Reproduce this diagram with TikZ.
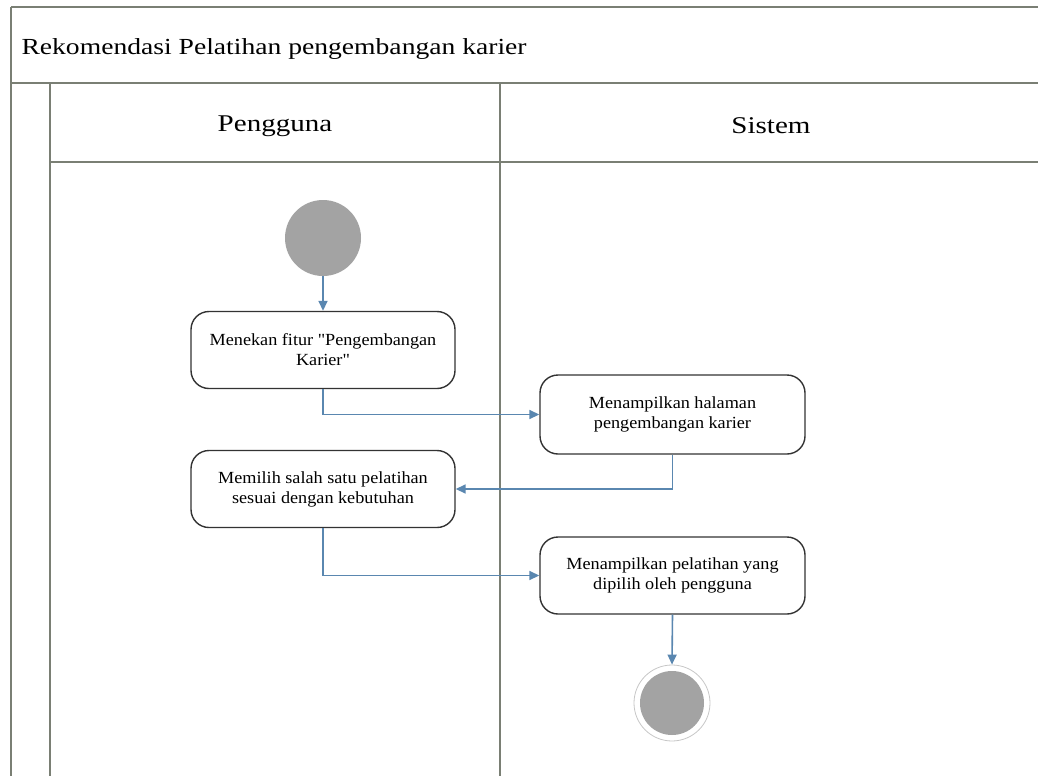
\documentclass[tikz,border=0pt]{standalone}
\usepackage{fontspec}
\setmainfont{Liberation Serif}
\newfontfamily\titlefont[FakeStretch=1.2]{Liberation Serif}
\newfontfamily\lanefont[FakeStretch=1.21]{Liberation Serif}
\newfontfamily\boxfont[FakeStretch=1.07]{Liberation Serif}
\usetikzlibrary{arrows.meta}
\definecolor{frame}{HTML}{7A7F74}
\definecolor{flow}{HTML}{5A87B0}
\definecolor{dotgray}{HTML}{A3A3A3}
\begin{document}
\begin{tikzpicture}[x=1pt,y=-1pt,
  frameline/.style={draw=frame,line width=2pt},
  actbox/.style={draw=black!80,line width=1.4pt,rounded corners=18pt,
    minimum width=264pt,minimum height=77pt,align=center,inner sep=0pt,
    font=\boxfont\fontsize{17}{20}\selectfont},
  flowarrow/.style={draw=flow,line width=1.6pt,-{Triangle[length=10pt,width=9pt]}},
  startdot/.style={circle,fill=dotgray,minimum size=76pt,inner sep=0pt},
  endring/.style={circle,draw=black!22,line width=0.8pt,fill=white,minimum size=76pt,inner sep=0pt},
  enddot/.style={circle,fill=dotgray,minimum size=64pt,inner sep=0pt}
]
\useasboundingbox (0,0) rectangle (1038,776);
\fill[white] (0,0) rectangle (1038,776);
% frame
\draw[frameline,line width=2.6pt] (1038,7) -- (11,7);
\draw[frameline] (11,7) -- (11,776);
\draw[frameline] (11,83) -- (1038,83);
\draw[frameline] (50,83) -- (50,776);
\draw[frameline] (500,83) -- (500,776);
\draw[frameline] (50,162) -- (1038,162);
% texts
\node[anchor=west,font=\titlefont\fontsize{23}{26}\selectfont] (title) at (18,49) {Rekomendasi Pelatihan pengembangan karier};
\node[font=\lanefont\fontsize{24}{28}\selectfont] (lane1) at (275,126) {Pengguna};
\node[font=\lanefont\fontsize{24}{28}\selectfont] (lane2) at (771,126) {Sistem};
% nodes
\node[startdot] (start) at (323,238) {};
\node[actbox] (b1) at (323,350) {Menekan fitur "Pengembangan\\Karier"};
\node[actbox,minimum width=265pt,minimum height=79pt] (b2) at (672.5,414.5) {Menampilkan halaman\\pengembangan karier};
\node[actbox] (b3) at (323,489) {Memilih salah satu pelatihan\\sesuai dengan kebutuhan};
\node[actbox,minimum width=265pt] (b4) at (672.5,575.5) {Menampilkan pelatihan yang\\dipilih oleh pengguna};
\node[endring] (endr) at (672,703) {};
\node[enddot] (end) at (672,703) {};
% flows
\draw[flowarrow] (start) -- (b1);
\draw[flowarrow] (b1.south) |- (b2.west);
\draw[flowarrow] (b2.south) |- (b3.east);
\draw[flowarrow] (b3.south) |- (b4.west);
\draw[flowarrow] (b4.south) -- (endr.north);
\end{tikzpicture}
\end{document}
